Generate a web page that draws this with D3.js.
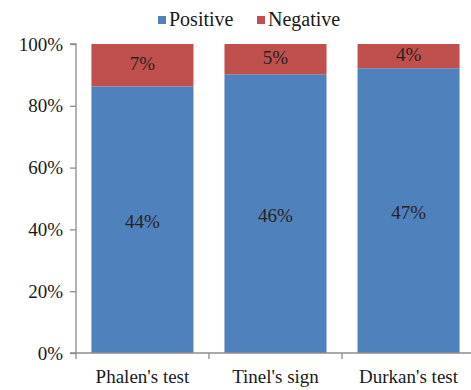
<!DOCTYPE html>
<html>
<head>
<meta charset="utf-8">
<script src="https://cdn.jsdelivr.net/npm/d3@7"></script>
<style>
  svg text { font-family: "Liberation Serif", serif !important; }
</style>
</head>
<body style="margin:0;padding:0;background:#fff">
<div id="chart"></div>
<script>
// Test results, percent of patients
const categories = ["Phalen's test", "Tinel's sign", "Durkan's test"];
const positive = [44, 46, 47];
const negative = [7, 5, 4];
const seriesNames = ["Positive", "Negative"];
const seriesColors = ["#4F81BD", "#C0504D"];
const yTicks = [0, 0.2, 0.4, 0.6, 0.8, 1.0];

const W = 471, H = 390;
const margin = { top: 44, right: -4, bottom: 37, left: 76 };

// serif text styling shared by every label
function serif(sel, size) {
  return sel.attr("font-family", "Liberation Serif")
    .attr("font-size", size)
    .style("font-family", "'Liberation Serif', serif", "important")
    .style("font-size", size + "px", "important");
}

const svg = d3.select("#chart").append("svg")
  .attr("width", W).attr("height", H)
  .style("display", "block")
  .style("font-family", "'Liberation Serif', serif", "important");

const x = d3.scaleBand()
  .domain(categories)
  .range([margin.left, W - margin.right])
  .paddingInner(0.233)
  .paddingOuter(0.116);

const y = d3.scaleLinear()
  .domain([0, 1])
  .range([H - margin.bottom, margin.top]);

// Share of each series within a category (100% stacked)
const rows = categories.map((c, i) => ({
  cat: c,
  Positive: positive[i] / (positive[i] + negative[i]),
  Negative: negative[i] / (positive[i] + negative[i]),
  PositiveLabel: positive[i] + "%",
  NegativeLabel: negative[i] + "%"
}));

const stack = d3.stack().keys(seriesNames);
const layers = stack(rows);

// Bars
const g = svg.append("g");
layers.forEach((layer, li) => {
  g.selectAll(null).data(layer).enter().append("rect")
    .attr("x", d => x(d.data.cat))
    .attr("width", x.bandwidth())
    .attr("y", d => y(d[1]))
    .attr("height", d => y(d[0]) - y(d[1]))
    .attr("fill", seriesColors[li]);

  g.selectAll(null).data(layer).enter().append("text")
    .attr("x", d => x(d.data.cat) + x.bandwidth() / 2)
    .attr("y", d => (y(d[0]) + y(d[1])) / 2 + (li === 0 ? 8 : 5))
    .attr("text-anchor", "middle")
    .attr("fill", "#2a2222")
    .call(serif, 19)
    .text(d => d.data[seriesNames[li] + "Label"]);
});

// Y axis
const yAxis = d3.axisLeft(y)
  .tickValues(yTicks)
  .tickFormat(d3.format(".0%"))
  .tickSize(6)
  .tickPadding(7);
const ya = svg.append("g")
  .attr("transform", `translate(${margin.left},0)`)
  .call(yAxis);
ya.attr("font-family", "Liberation Serif");
ya.select(".domain").attr("stroke", "#8c8c8c").attr("stroke-width", 1.3)
  .attr("d", `M-6,${y(1)}H0V${y(0)}`);
ya.selectAll(".tick line").attr("stroke", "#8c8c8c").attr("stroke-width", 1.3);
ya.selectAll(".tick text")
  .attr("fill", "#1a1a1a")
  .call(serif, 19);

// X axis
const xa = svg.append("g")
  .attr("transform", `translate(0,${y(0)})`);
xa.append("line")
  .attr("x1", margin.left - 6).attr("x2", W)
  .attr("y1", 0).attr("y2", 0)
  .attr("stroke", "#8c8c8c").attr("stroke-width", 1.3);
const step = x.step();
const boundaries = categories.map((c, i) => i === 0 ? margin.left : x(c) - x.paddingInner() * step / 2);
xa.selectAll(null).data(boundaries).enter().append("line")
  .attr("x1", d => d).attr("x2", d => d)
  .attr("y1", 0).attr("y2", 6)
  .attr("stroke", "#8c8c8c").attr("stroke-width", 1.3);
xa.selectAll(null).data(categories).enter().append("text")
  .attr("x", d => x(d) + x.bandwidth() / 2)
  .attr("y", 30)
  .attr("text-anchor", "middle")
  .attr("fill", "#1a1a1a")
  .call(serif, 19)
  .text(d => d);

// Legend
const legend = svg.append("g").attr("transform", "translate(158,13)");
const legendX = [0, 99];
seriesNames.forEach((name, i) => {
  const lg = legend.append("g").attr("transform", `translate(${legendX[i]},0)`);
  lg.append("rect").attr("x", 0).attr("y", 3).attr("width", 8).attr("height", 8)
    .attr("fill", seriesColors[i]);
  lg.append("text").attr("x", 11).attr("y", 13)
    .attr("fill", "#1a1a1a")
    .call(serif, 20)
    .text(name);
});
</script>
</body>
</html>
